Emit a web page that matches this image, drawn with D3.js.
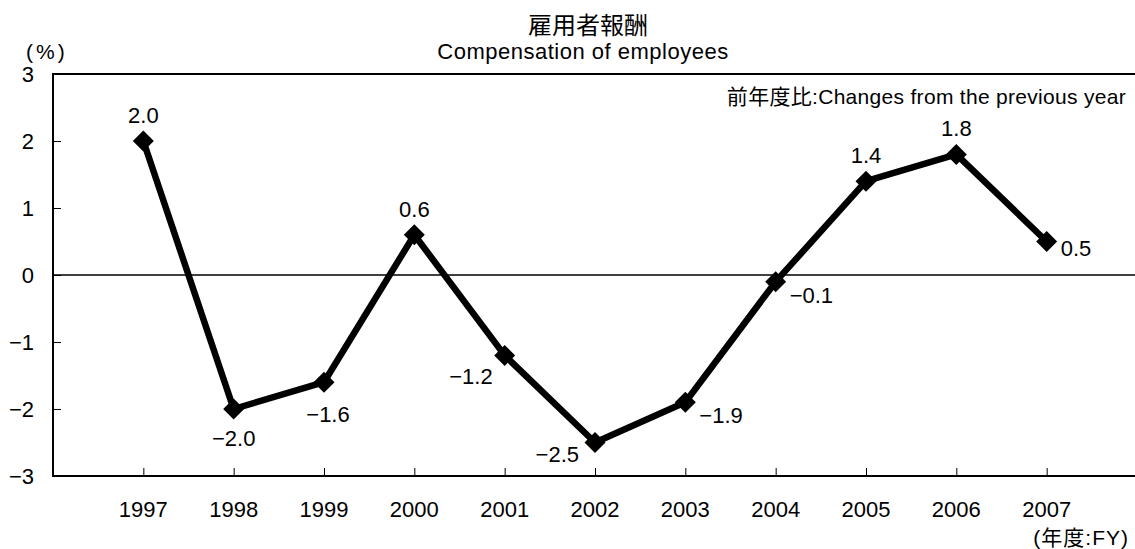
<!DOCTYPE html>
<html>
<head>
<meta charset="utf-8">
<script src="https://cdn.jsdelivr.net/npm/d3@7"></script>
<style>
  body { margin: 0; background: #fff; }
  text { font-family: "Liberation Sans", "Noto Sans CJK JP", sans-serif; fill: #000; }
</style>
</head>
<body>
<svg id="chart" width="1135" height="549"></svg>
<script>
// data
const years = [1997, 1998, 1999, 2000, 2001, 2002, 2003, 2004, 2005, 2006, 2007]
const values = [2.0, -2.0, -1.6, 0.6, -1.2, -2.5, -1.9, -0.1, 1.4, 1.8, 0.5]
// where each value label sits relative to its point
const labelPos = ["top", "bottom", "bottom-right", "top", "left-below", "left-below2", "right-below", "right-below", "top", "top", "right"]
const yTicks = [3, 2, 1, 0, -1, -2, -3]

const margin = { top: 74, left: 53 }
const plotBottom = 476
const plotRight = 1137

const svg = d3.select("#chart")

const x = d3.scaleLinear().domain([1996, 2008]).range([margin.left, plotRight])
const y = d3.scaleLinear().domain([-3, 3]).range([plotBottom, margin.top])

const fmt = v => (v < 0 ? "\u2212" : "") + Math.abs(v).toFixed(1)
const fmtTick = v => (v < 0 ? "\u2212" : "") + Math.abs(v)

// titles
svg.append("text").attr("x", 588).attr("y", 34).attr("text-anchor", "middle")
  .style("font-size", "24px").text("雇用者報酬")
svg.append("text").attr("x", 583).attr("y", 59).attr("text-anchor", "middle")
  .style("font-size", "22px").style("letter-spacing", "0.5px").text("Compensation of employees")
svg.append("text").attr("x", 26).attr("y", 59).style("font-size", "21px")
  .style("letter-spacing", "3px").text("(%)")
svg.append("text").attr("x", 1126).attr("y", 104).attr("text-anchor", "end")
  .style("font-size", "21px").style("letter-spacing", "0.3px").text("前年度比:Changes from the previous year")
svg.append("text").attr("x", 1129).attr("y", 545).attr("text-anchor", "end")
  .style("font-size", "21px").style("letter-spacing", "1px").text("(年度:FY)")

// y axis
const yAxis = svg.append("g")
  .attr("transform", "translate(" + margin.left + ",0)")
  .call(d3.axisRight(y).tickValues(yTicks).tickSize(8).tickFormat(""))
yAxis.select(".domain").remove()
yAxis.selectAll("line").attr("stroke", "#000").attr("stroke-width", 1)
svg.append("g").selectAll("text").data(yTicks).enter().append("text")
  .attr("x", 34).attr("y", d => y(d) + 8).attr("text-anchor", "end")
  .style("font-size", "22px").text(fmtTick)

// x axis
const xAxis = svg.append("g")
  .attr("transform", "translate(0," + plotBottom + ")")
  .call(d3.axisTop(x).tickValues(years).tickSize(8).tickFormat(""))
xAxis.select(".domain").remove()
xAxis.selectAll("line").attr("stroke", "#000").attr("stroke-width", 1)
svg.append("g").selectAll("text").data(years).enter().append("text")
  .attr("x", d => x(d)).attr("y", 517).attr("text-anchor", "middle")
  .style("font-size", "22px").text(d => d)

// frame lines: top, left, bottom, zero
svg.append("line").attr("x1", margin.left).attr("x2", plotRight)
  .attr("y1", y(3)).attr("y2", y(3)).attr("stroke", "#000").attr("stroke-width", 2)
svg.append("line").attr("x1", margin.left).attr("x2", plotRight)
  .attr("y1", y(-3)).attr("y2", y(-3)).attr("stroke", "#000").attr("stroke-width", 2)
svg.append("line").attr("x1", margin.left).attr("x2", margin.left)
  .attr("y1", y(3) - 1).attr("y2", y(-3) + 1).attr("stroke", "#000").attr("stroke-width", 2)
svg.append("line").attr("x1", margin.left).attr("x2", plotRight)
  .attr("y1", y(0)).attr("y2", y(0)).attr("stroke", "#000").attr("stroke-width", 1.5)

// the line
const pts = years.map((yr, i) => ({ year: yr, value: values[i], pos: labelPos[i] }))
svg.append("path")
  .datum(pts)
  .attr("fill", "none")
  .attr("stroke", "#000")
  .attr("stroke-width", 6.5)
  .attr("stroke-linejoin", "round")
  .attr("d", d3.line().x(d => x(d.year)).y(d => y(d.value)))

// diamond markers
svg.append("g").selectAll("path").data(pts).enter().append("path")
  .attr("transform", d => "translate(" + x(d.year) + "," + y(d.value) + ") rotate(45)")
  .attr("d", d3.symbol().type(d3.symbolSquare).size(220))
  .attr("fill", "#000")

// value labels
const offsets = {
  "top": [0, -18, "middle"],
  "bottom": [0, 37, "middle"],
  "bottom-right": [4, 40, "middle"],
  "left-below": [-12, 29, "end"],
  "left-below2": [-16, 19, "end"],
  "right-below": [14, 21, "start"],
  "right": [14, 14, "start"],
}
svg.append("g").selectAll("text").data(pts).enter().append("text")
  .attr("x", d => x(d.year) + offsets[d.pos][0])
  .attr("y", d => y(d.value) + offsets[d.pos][1])
  .attr("text-anchor", d => offsets[d.pos][2])
  .style("font-size", "22px")
  .text(d => fmt(d.value))
</script>
</body>
</html>
